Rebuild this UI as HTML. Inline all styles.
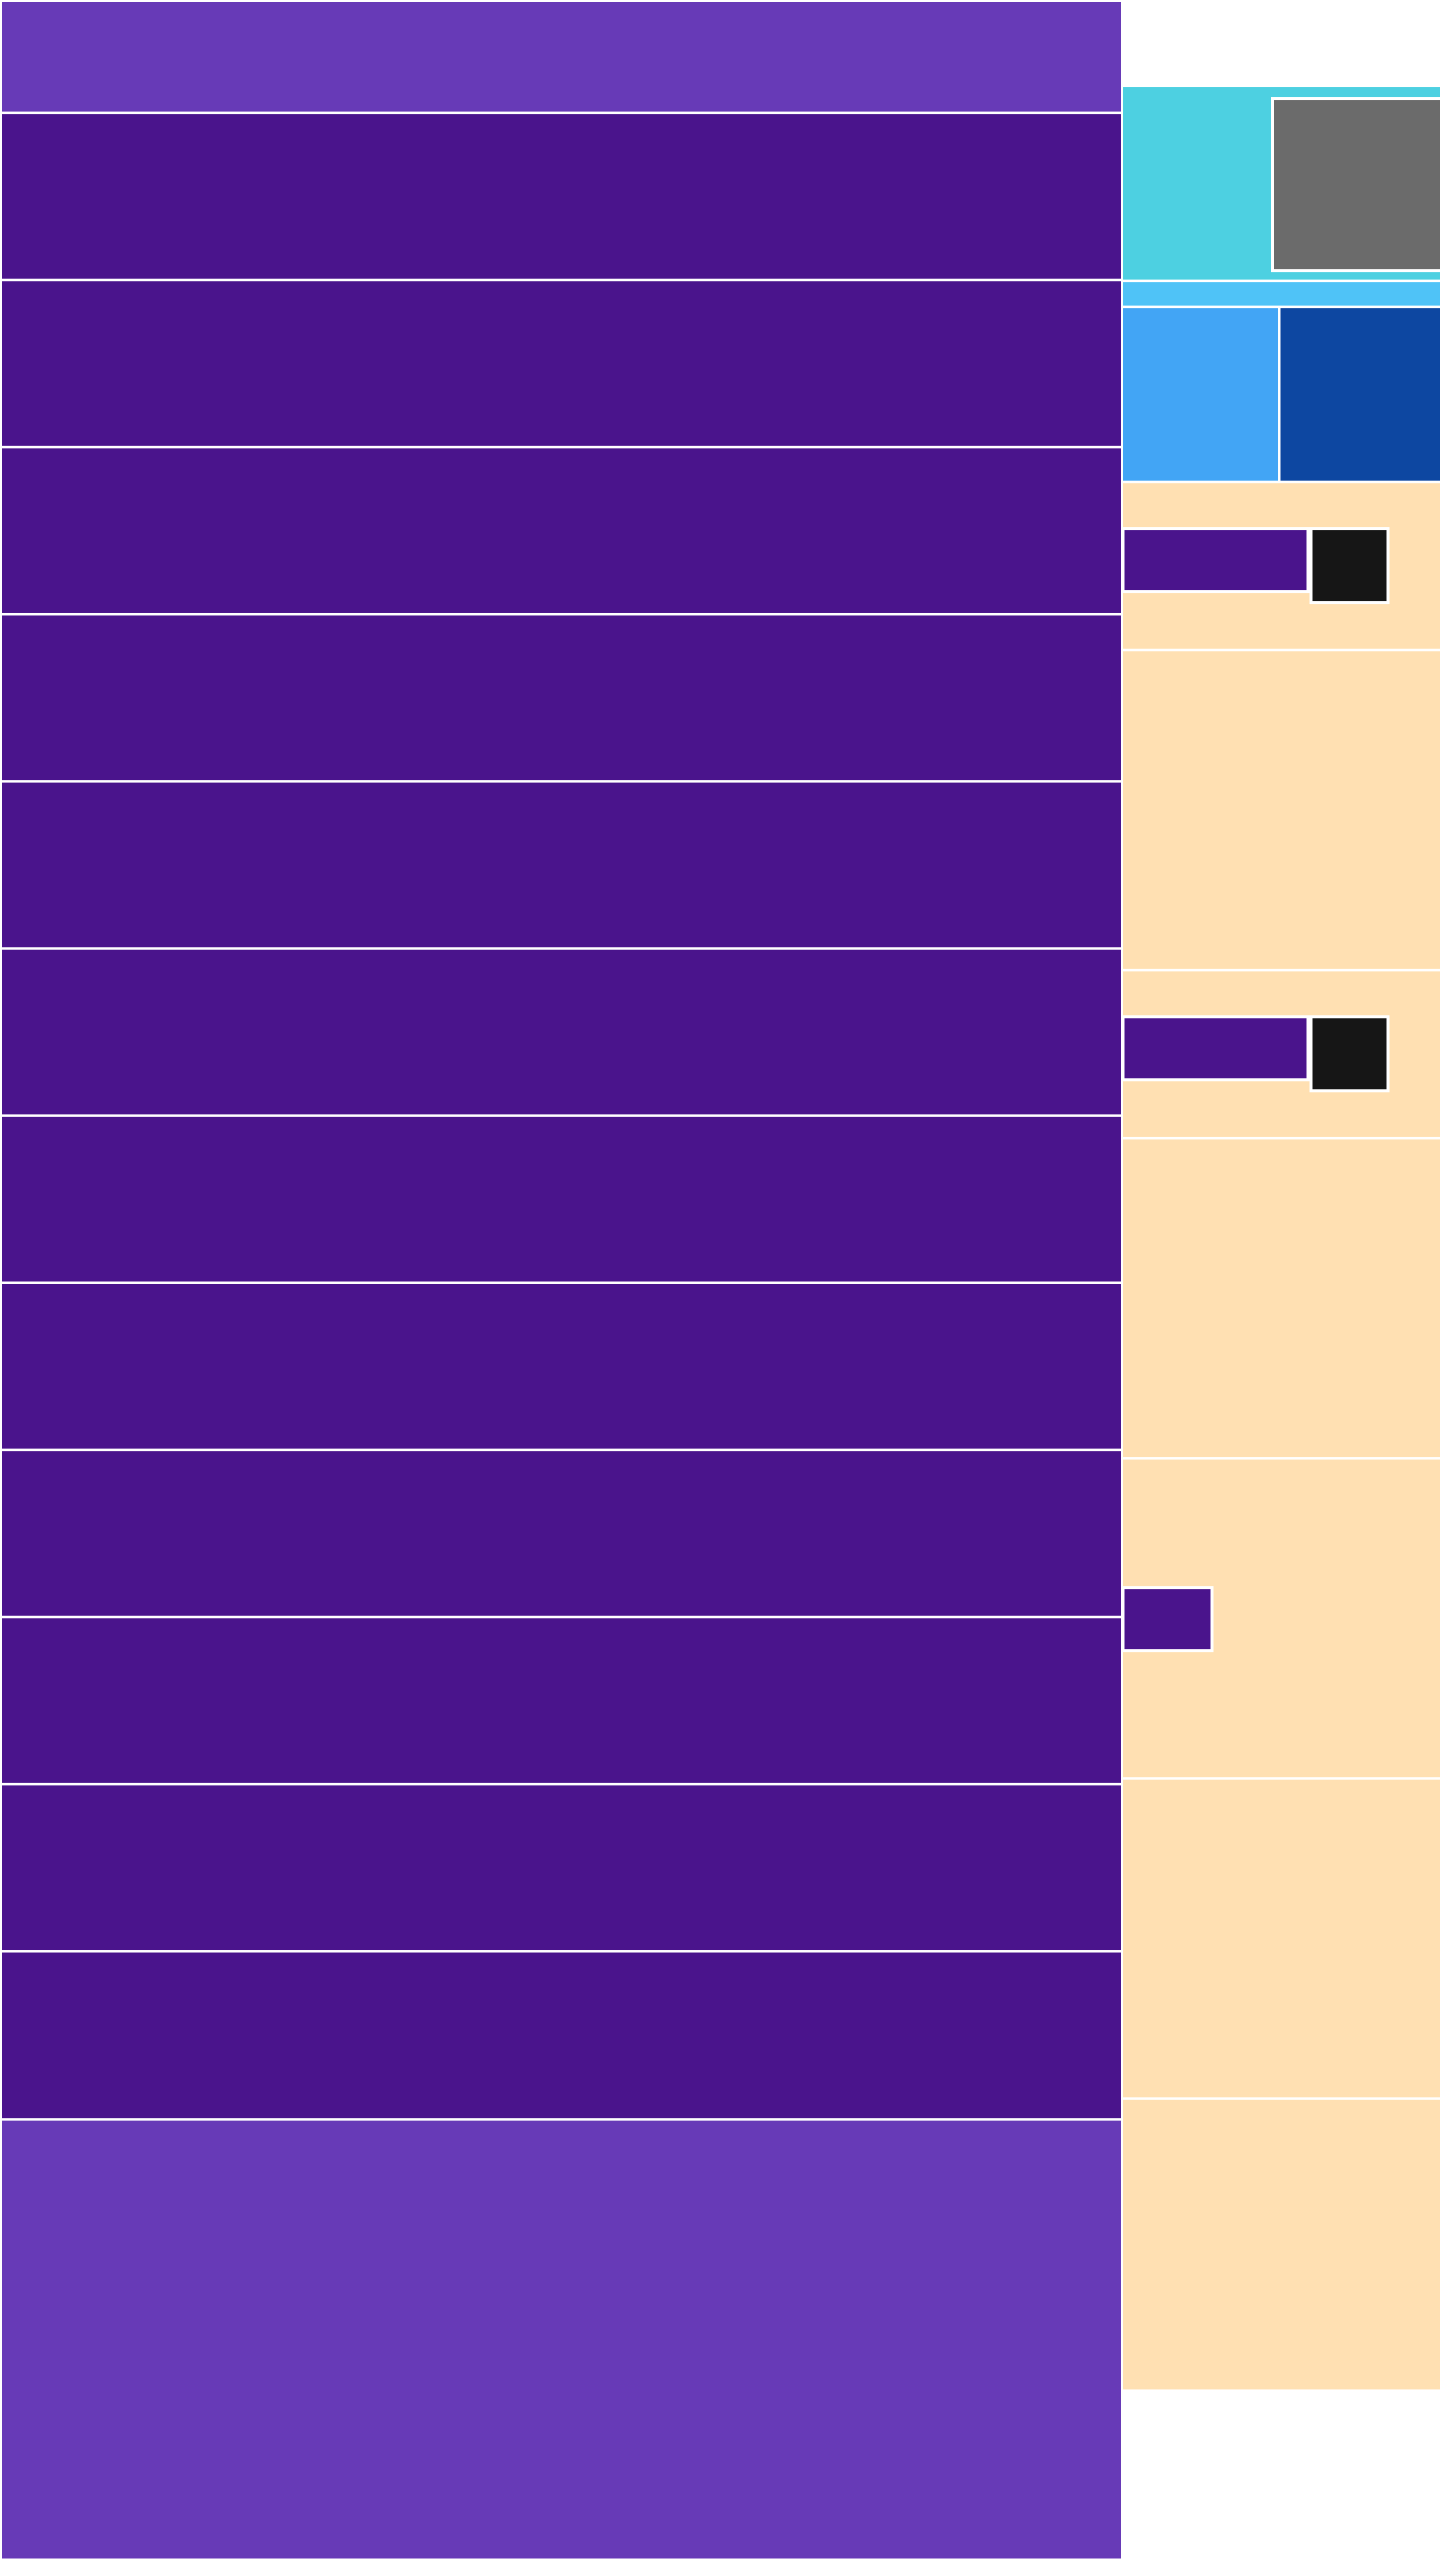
<!DOCTYPE html>
<html><head><meta charset="utf-8">
<style>
html,body{margin:0;padding:0;background:#fff;width:1440px;height:2560px;overflow:hidden;font-family:"Liberation Sans",sans-serif}
svg{display:block}
</style></head>
<body>
<svg id="chart" width="1440" height="2560" viewBox="0 0 1440 2560" xmlns="http://www.w3.org/2000/svg"></svg>
<script>
// Left column: stacked nodes (values ~ size units)
const leftNames = ['root-header','row-1','row-2','row-3','row-4','row-5','row-6','row-7','row-8','row-9','row-10','row-11','row-12','root-footer'];
const leftValues = [113,167,167,167,167,167,167,167,167,167,167,167,168,440];
const leftColors = ['#673AB7','#4A148C','#4A148C','#4A148C','#4A148C','#4A148C','#4A148C','#4A148C','#4A148C','#4A148C','#4A148C','#4A148C','#4A148C','#673AB7'];
// Right column: stacked nodes, starting after top blank
const rightNames = ['blank-top','cyan-group','sky-strip','blue-group','beige-1','beige-2','beige-3','beige-4','beige-5','beige-6','beige-7','blank-bottom'];
const rightValues = [87,195,26,175,168,320,168,320,320,320,292,168];
const rightColors = [null,'#4DD0E1','#4FC3F7',null,'#FFE0B2','#FFE0B2','#FFE0B2','#FFE0B2','#FFE0B2','#FFE0B2','#FFE0B2',null];
// Blue group split horizontally
const blueValues = [158,160];
const blueColors = ['#42A5F5','#0D47A1'];
// Beige inner bars: [rightIndex, purpleWidth, blackWidth]
const innerRowIdx = [4,6,8];
const innerPurpleW = [185,185,89];
const innerBlackW = [77,77,0];

const svg = document.getElementById('chart');
const NS = 'http://www.w3.org/2000/svg';
const W = 1440, H = 2560, LW = 1122, RX = 1123;
function rect(x,y,w,h,fill,name,stroke){
  const r = document.createElementNS(NS,'rect');
  r.setAttribute('x',x);r.setAttribute('y',y);r.setAttribute('width',Math.max(0,w));r.setAttribute('height',Math.max(0,h));
  r.setAttribute('fill',fill);
  if(stroke){r.setAttribute('stroke','#fff');r.setAttribute('stroke-width',stroke);}
  
  
  svg.appendChild(r);return r;
}
function stackScale(vals){const t=vals.reduce((a,b)=>a+b,0);return v=>v*H/t;}
// left
(function(){
  const s=stackScale(leftValues);let y=0;
  leftValues.forEach((v,i)=>{const h=s(v);const top=i===0?2:y+1;rect(2,top,LW-3,y+h-1.5-top,leftColors[i],'node-'+leftNames[i]);y+=h;});
})();
// right
const rY=[],rH=[];
(function(){
  const s=stackScale(rightValues);let y=0;
  rightValues.forEach((v,i)=>{const h=s(v);rY.push(y);rH.push(h);
    if(rightColors[i]) rect(RX,y,W-RX,h-2.5,rightColors[i],'node-'+rightNames[i]);
    y+=h;});
})();
// gray child in cyan
(function(){
  const y=rY[1], h=rH[1];
  rect(1272.5,y+11.5,170,h-23,'#6B6B6B','node-gray-child',3);
})();
// blue group
(function(){
  const y=rY[3],h=rH[3],t=blueValues.reduce((a,b)=>a+b,0);let x=RX;
  blueValues.forEach((v,i)=>{const w=v*(W-RX)/t;const last=i===blueValues.length-1;rect(x,y,last?w:w-2.5,h-2.5,blueColors[i],'node-blue-'+(i+1));x+=w;});
})();
// inner bars in beige rows
innerRowIdx.forEach((ri,k)=>{
  const y=rY[ri],h=rH[ri];
  let by = ri===8 ? y+h*0.4 : y+h*0.27;
  const ph = 63;
  rect(RX,by,innerPurpleW[k],ph,'#4A148C','node-inner-bar-'+(k+1),3);
  if(innerBlackW[k]>0) rect(RX+innerPurpleW[k]+3,by,innerBlackW[k],ph+11,'#161616','node-inner-black-'+(k+1),3);
});
</script>
</body></html>
